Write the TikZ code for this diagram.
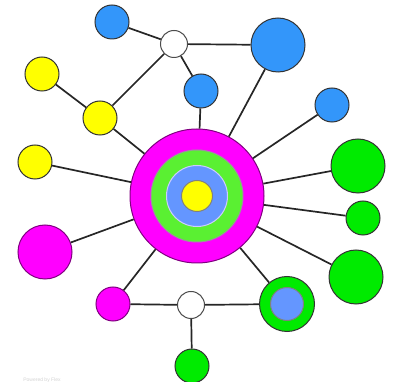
\documentclass[tikz,border=0pt]{standalone}
\usepackage{fontspec}
\setmainfont{Liberation Sans}
\definecolor{nodeblue}{RGB}{51,150,250}
\definecolor{paleblue}{RGB}{100,150,255}
\definecolor{nodegreen}{RGB}{0,235,0}
\definecolor{ringgreen}{RGB}{90,240,50}
\definecolor{nodemagenta}{RGB}{255,0,255}
\definecolor{nodeyellow}{RGB}{255,255,0}
\begin{document}
\begin{tikzpicture}[x=1pt, y=-1pt, every node/.style={circle, draw=black!80, line width=1pt, inner sep=0pt}, small/.style={minimum size=34pt}, large/.style={minimum size=54pt}, hub/.style={minimum size=27pt, fill=white, draw=black!70}]
\useasboundingbox (0,0) rectangle (394,382);
\node (core) [minimum size=134pt, fill=nodemagenta, draw=black!50!nodemagenta] at (197,196) {};
\node (ring) [minimum size=92pt, fill=ringgreen, draw=gray!80] at (197,196) {};
\node (inner) [minimum size=61pt, fill=paleblue, draw=blue!20] at (197,196) {};
\node (dot) [minimum size=31pt, fill=nodeyellow, draw=gray] at (197,196) {};
\node (topblue) [small, fill=nodeblue] at (112,22) {};
\node (tophub) [hub] at (174,44) {};
\node (bigblue) [large, fill=nodeblue] at (278,45) {};
\node (midblue) [small, fill=nodeblue] at (201,91) {};
\node (rightblue) [small, fill=nodeblue] at (332,105) {};
\node (faryellow) [small, fill=nodeyellow] at (42,74) {};
\node (midyellow) [small, fill=nodeyellow] at (100,118) {};
\node (leftyellow) [small, fill=nodeyellow] at (35,162) {};
\node (bigmagenta) [large, fill=nodemagenta, draw=black!50!nodemagenta] at (45,252) {};
\node (green1) [large, fill=nodegreen] at (358,166) {};
\node (green2) [small, fill=nodegreen] at (363,218) {};
\node (green3) [large, fill=nodegreen] at (356,277) {};
\node (smallmagenta) [small, fill=nodemagenta, draw=black!50!nodemagenta] at (113,304) {};
\node (lowhub) [hub] at (191,305) {};
\node (duo) [minimum size=55pt, fill=nodegreen] at (287,304) {};
\node (duoin) [minimum size=33pt, fill=paleblue, draw=gray] at (287,304) {};
\node (lowgreen) [small, fill=nodegreen] at (192,366) {};
\node [draw=none, text=gray!35, font=\tiny] at (42,380) {Powered by Flex};
\begin{scope}[line width=1.7pt, black!85]
\draw (tophub) -- (topblue);
\draw (tophub) -- (bigblue);
\draw (tophub) -- (midblue);
\draw (tophub) -- (midyellow);
\draw (midyellow) -- (faryellow);
\draw (core) -- (midyellow);
\draw (core) -- (midblue);
\draw (core) -- (bigblue);
\draw (core) -- (rightblue);
\draw (core) -- (green1);
\draw (core) -- (green2);
\draw (core) -- (green3);
\draw (core) -- (duo);
\draw (core) -- (smallmagenta);
\draw (core) -- (bigmagenta);
\draw (core) -- (leftyellow);
\draw (smallmagenta) -- (lowhub);
\draw (lowhub) -- (duo);
\draw (lowhub) -- (lowgreen);
\end{scope}
\end{tikzpicture}
\end{document}
